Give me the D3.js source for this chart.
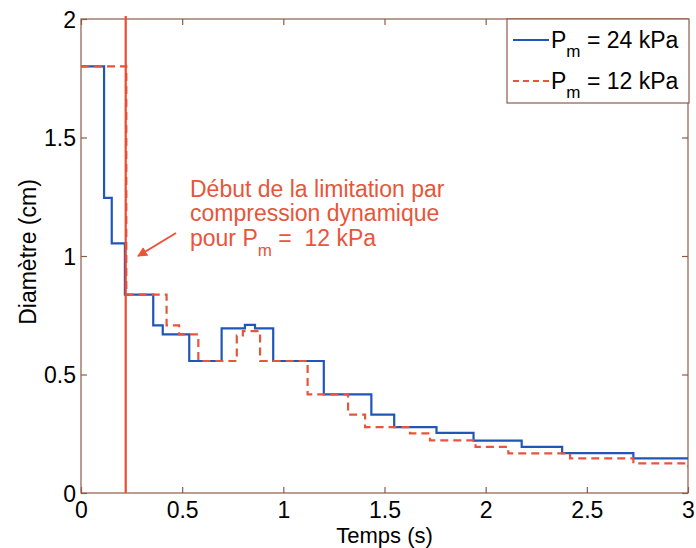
<!DOCTYPE html>
<html><head><meta charset="utf-8">
<script src="https://cdn.jsdelivr.net/npm/d3@7"></script>
<style>
html,body{margin:0;padding:0;background:#fff;}
svg{display:block;font-family:"Liberation Sans",Arial,sans-serif;}
text.pre, text.pre tspan{white-space:pre;}
</style></head>
<body>
<svg id="c" width="696" height="548"></svg>
<script>
// ---- data ----
const xTicks = [0, 0.5, 1, 1.5, 2, 2.5, 3];
const xTickLabels = ["0", "0.5", "1", "1.5", "2", "2.5", "3"];
const yTicks = [0, 0.5, 1, 1.5, 2];
const yTickLabels = ["0", "0.5", "1", "1.5", "2"];
const seriesNames = ["24 kPa", "12 kPa"];
// Pm = 24 kPa (step-after)
const blueX = [0, 0.114, 0.152, 0.217, 0.357, 0.404, 0.535, 0.695, 0.81, 0.86, 0.95, 1.20, 1.435, 1.548, 1.757, 1.94, 2.178, 2.378, 2.73, 3.0];
const blueY = [1.8, 1.245, 1.053, 0.837, 0.707, 0.669, 0.557, 0.695, 0.709, 0.695, 0.557, 0.416, 0.331, 0.278, 0.254, 0.221, 0.195, 0.168, 0.146, 0.146];
// Pm = 12 kPa (step-after)
const redX = [0, 0.224, 0.423, 0.485, 0.58, 0.77, 0.80, 0.885, 1.12, 1.32, 1.404, 1.626, 1.725, 1.95, 2.112, 2.417, 2.73, 2.99, 3.0];
const redY = [1.8, 0.837, 0.707, 0.669, 0.557, 0.665, 0.683, 0.557, 0.416, 0.331, 0.278, 0.252, 0.222, 0.195, 0.167, 0.146, 0.125, 0.112, 0.112];
const limitX = 0.221;

// ---- layout ----
const L = 81, R = 688, T = 19, B = 493;
const svg = d3.select("#c");
const x = d3.scaleLinear().domain([0, 3]).range([L, R]);
const y = d3.scaleLinear().domain([0, 2]).range([B, T]);
const axisColor = "#8c5a46";
const blue = "#1f56b8";
const red = "#e8553a";
const FS = 23;

// frame
svg.append("rect").attr("x", L).attr("y", T).attr("width", R - L).attr("height", B - T)
  .attr("fill", "none").attr("stroke", axisColor).attr("stroke-width", 1.2);

// axes (inward ticks) via d3 axes
const gx = svg.append("g").attr("transform", `translate(0,${B})`)
  .call(d3.axisBottom(x).tickValues(xTicks).tickSizeInner(-6).tickSizeOuter(0).tickPadding(10)
    .tickFormat((d, i) => xTickLabels[i]));
const gxt = svg.append("g").attr("transform", `translate(0,${T})`)
  .call(d3.axisTop(x).tickValues(xTicks).tickSizeInner(-6).tickSizeOuter(0).tickFormat(""));
const gy = svg.append("g").attr("transform", `translate(${L},0)`)
  .call(d3.axisLeft(y).tickValues(yTicks).tickSizeInner(-6).tickSizeOuter(0).tickPadding(5)
    .tickFormat((d, i) => yTickLabels[i]));
const gyr = svg.append("g").attr("transform", `translate(${R},0)`)
  .call(d3.axisRight(y).tickValues(yTicks).tickSizeInner(-6).tickSizeOuter(0).tickFormat(""));
[gx, gxt, gy, gyr].forEach(g => {
  g.select(".domain").remove();
  g.selectAll(".tick line").attr("stroke", axisColor).attr("stroke-width", 1.2);
  g.selectAll(".tick text").attr("fill", "#000").style("font-size", FS + "px")
    .style("font-family", '"Liberation Sans",Arial,sans-serif');
});
gx.selectAll(".tick text").attr("dy", null).attr("y", 25);
gy.selectAll(".tick text").attr("dy", "0.36em").attr("x", -5);

// axis labels
svg.append("text").attr("x", (L + R) / 2).attr("y", 543).attr("text-anchor", "middle")
  .style("font-size", "22px").text("Temps (s)");
svg.append("text").attr("transform", "translate(36,252) rotate(-90)").attr("text-anchor", "middle")
  .style("font-size", FS + "px").text("Diamètre (cm)");

// series
const line = d3.line().x(d => x(d[0])).y(d => y(d[1])).curve(d3.curveStepAfter);
const blueData = blueX.map((v, i) => [v, blueY[i]]);
const redData = redX.map((v, i) => [v, redY[i]]);
svg.append("path").datum(blueData).attr("d", line).attr("fill", "none")
  .attr("stroke", blue).attr("stroke-width", 2.2);
svg.append("path").datum(redData).attr("d", line).attr("fill", "none")
  .attr("stroke", red).attr("stroke-width", 2.2).attr("stroke-dasharray", "8,5");

// limitation vertical line
svg.append("line").attr("x1", x(limitX)).attr("x2", x(limitX)).attr("y1", y(0)).attr("y2", y(2) - 3)
  .attr("stroke", "#ee4a30").attr("stroke-width", 2.2);

// annotation
const ann = svg.append("g").attr("fill", red).style("font-size", FS + "px");
ann.append("text").attr("x", 190).attr("y", 197).text("Début de la limitation par");
ann.append("text").attr("x", 190).attr("y", 221).text("compression dynamique");
const t3 = ann.append("text").attr("class", "pre").attr("x", 190).attr("y", 246);
t3.append("tspan").text("pour P");
t3.append("tspan").attr("dy", 10).style("font-size", "17px").text("m");
t3.append("tspan").attr("dy", -10).text(" =  12 kPa");

// arrow
svg.append("defs").append("marker").attr("id", "ah").attr("viewBox", "0 0 10 10")
  .attr("refX", 9).attr("refY", 5).attr("markerWidth", 5).attr("markerHeight", 5)
  .attr("orient", "auto").append("path").attr("d", "M0,0 L10,5 L0,10 z").attr("fill", red);
svg.append("line").attr("x1", 176).attr("y1", 233).attr("x2", 138).attr("y2", 256)
  .attr("stroke", red).attr("stroke-width", 2).attr("marker-end", "url(#ah)");

// legend
const lg = svg.append("g");
lg.append("rect").attr("x", 507).attr("y", T).attr("width", 182).attr("height", 84)
  .attr("fill", "#fff").attr("stroke", axisColor).attr("stroke-width", 1.2);
const legItems = [
  {name: seriesNames[0], color: blue, dash: null, y: 40},
  {name: seriesNames[1], color: red, dash: "6,4", y: 81}
];
legItems.forEach(it => {
  lg.append("line").attr("x1", 513).attr("x2", 549).attr("y1", it.y).attr("y2", it.y)
    .attr("stroke", it.color).attr("stroke-width", 2).attr("stroke-dasharray", it.dash);
  const t = lg.append("text").attr("x", 551).attr("y", it.y + 8).attr("fill", "#000")
    .style("font-size", FS + "px");
  t.append("tspan").text("P");
  t.append("tspan").attr("dy", 9).style("font-size", "17px").text("m");
  t.append("tspan").attr("dy", -9).text(" = " + it.name);
});
</script>
</body></html>
